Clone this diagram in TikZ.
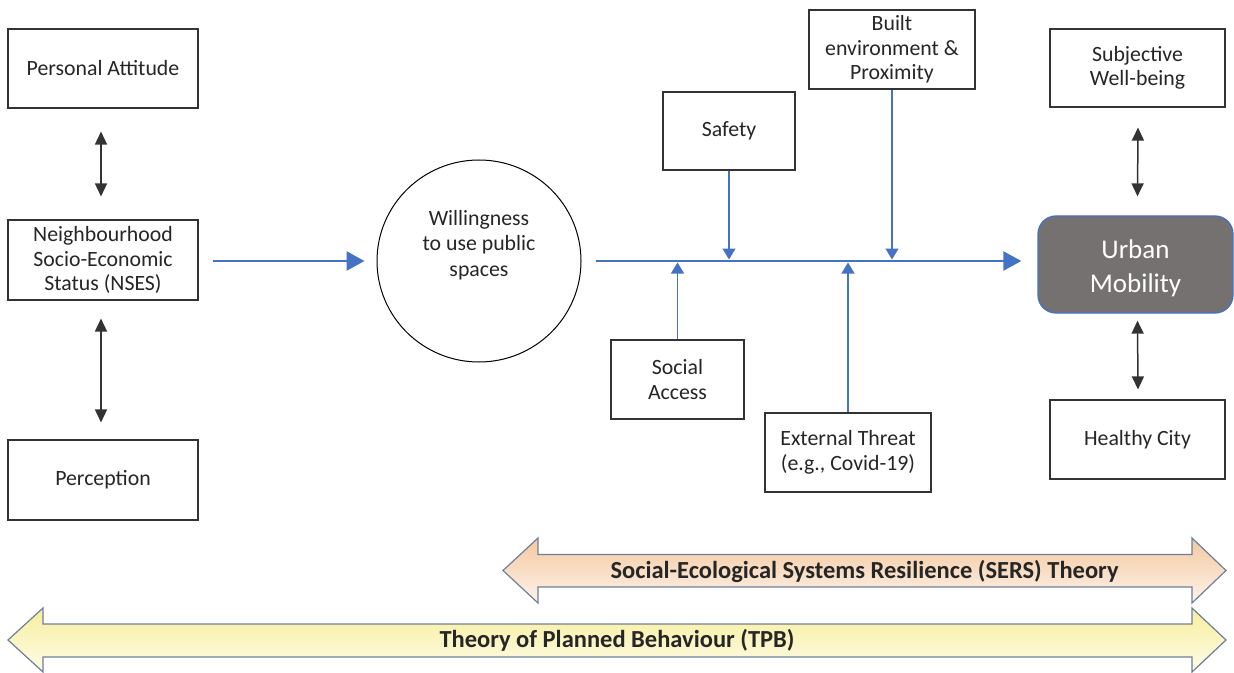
\documentclass[tikz,border=0pt]{standalone}
\usepackage{fontspec}
\setmainfont{Carlito}
\usetikzlibrary{arrows.meta,shapes.geometric,calc}
\definecolor{txt}{HTML}{262626}
\definecolor{blu}{HTML}{4472C4}
\definecolor{umfill}{HTML}{767171}
\definecolor{arrborder}{HTML}{6F7F99}
\definecolor{sersA}{HTML}{F4C8A0}
\definecolor{sersB}{HTML}{FDF3EA}
\definecolor{tpbA}{HTML}{F7EE9C}
\definecolor{tpbB}{HTML}{FEFCE9}
\begin{document}
\begin{tikzpicture}[x=1bp,y=-1bp,
  every node/.style={font=\fontsize{21.8bp}{24.5bp}\selectfont, text=txt},
  box/.style={draw=black!80, line width=1.1bp, align=center, inner sep=0pt, fill=white},
  dbl/.style={draw=black!80, line width=1.5bp, {Triangle[width=12bp,length=13bp]}-{Triangle[width=12bp,length=13bp]}},
  mainarr/.style={draw=blu, line width=2.6bp, -{Triangle[width=19bp,length=18bp]}},
  brarr/.style={draw=blu, line width=1.3bp, -{Triangle[width=13bp,length=11bp]}},
  theory/.style={font=\bfseries\fontsize{24.5bp}{26bp}\selectfont, text=black!85}
]
\useasboundingbox (0,0) rectangle (1234,673);

% left column
\node[box, minimum width=190bp, minimum height=79bp] (pa) at (103,68.5) {Personal Attitude};
\node[box, minimum width=190bp, minimum height=80bp] (nses) at (103,260) {Neighbourhood\\Socio-Economic\\Status (NSES)};
\node[box, minimum width=190bp, minimum height=80bp] (perc) at (103,480) {Perception};

\draw[dbl] ($(pa.south)+(-2,23)$) -- ($(nses.north)+(-2,-23)$);
\draw[dbl] ($(nses.south)+(-2,18)$) -- ($(perc.north)+(-2,-17)$);

% ellipse
\node[draw=black, line width=1bp, ellipse, minimum width=204bp, minimum height=202bp, inner sep=0pt] (will) at (479,261) {};
\node[align=center, font=\fontsize{21.8bp}{25.5bp}\selectfont] (willtxt) at (479,245) {Willingness\\to use public\\spaces};

\draw[mainarr, shorten <=14bp, shorten >=12bp] (nses.east |- will.west) -- (will.west);

% right node
\node[draw=blu, line width=1.3bp, fill=umfill, rounded corners=18bp, minimum width=195bp, minimum height=97bp, align=center, inner sep=0pt,
  font=\fontsize{27bp}{34bp}\selectfont, text=white] (um) at (1135.5,264.5) {\rule{0pt}{26bp}Urban\\Mobility};

\coordinate (mainy) at (0,261);
\draw[mainarr, shorten <=14bp, shorten >=16bp] (will.east) -- (will.east -| um.west);

% factor boxes
\node[box, minimum width=132bp, minimum height=78bp] (safety) at (729,131) {Safety};
\node[box, minimum width=166bp, minimum height=79bp] (built) at (892,49.5) {Built\\environment \&\\Proximity};
\node[box, minimum width=133bp, minimum height=79bp] (social) at (677.5,379.5) {Social\\Access};
\node[box, minimum width=166bp, minimum height=79bp] (ext) at (848,452.5) {External Threat\\(e.g., Covid-19)};

\draw[brarr, shorten >=1.5bp] (safety.south) -- (safety.south |- mainy);
\draw[brarr, shorten >=1.5bp] (built.south) -- (built.south |- mainy);
\draw[brarr, shorten >=1.5bp] (social.north) -- (social.north |- mainy);
\draw[brarr, shorten >=1.5bp] (ext.north) -- (ext.north |- mainy);

% right column
\node[box, minimum width=175bp, minimum height=78bp] (swb) at (1137.5,68) {Subjective\\Well-being};
\node[box, minimum width=175bp, minimum height=79bp] (hc) at (1137.5,439.5) {Healthy City};

\draw[dbl] ($(swb.south)+(0.5,20)$) -- ($(um.north)+(2,-19)$);
\draw[dbl] ($(um.south)+(2,7)$) -- ($(hc.north)+(0.5,-10)$);

% theory arrows
\shade[top color=sersA, bottom color=sersB, draw=arrborder, line width=1.2bp]
  (503,570.5) -- (538,538) -- (538,554.5) -- (1192,554.5) -- (1192,538) -- (1226,570.5)
  -- (1192,603) -- (1192,587) -- (538,587) -- (538,603) -- cycle;
\node[theory] (sers) at (864.5,571) {Social-Ecological Systems Resilience (SERS) Theory};

\shade[top color=tpbA, bottom color=tpbB, draw=arrborder, line width=1.2bp]
  (8,640) -- (43,608) -- (43,624) -- (1192,624) -- (1192,608) -- (1226,640)
  -- (1192,672) -- (1192,657) -- (43,657) -- (43,672) -- cycle;
\node[theory] (tpb) at (617,640) {Theory of Planned Behaviour (TPB)};
\end{tikzpicture}
\end{document}
